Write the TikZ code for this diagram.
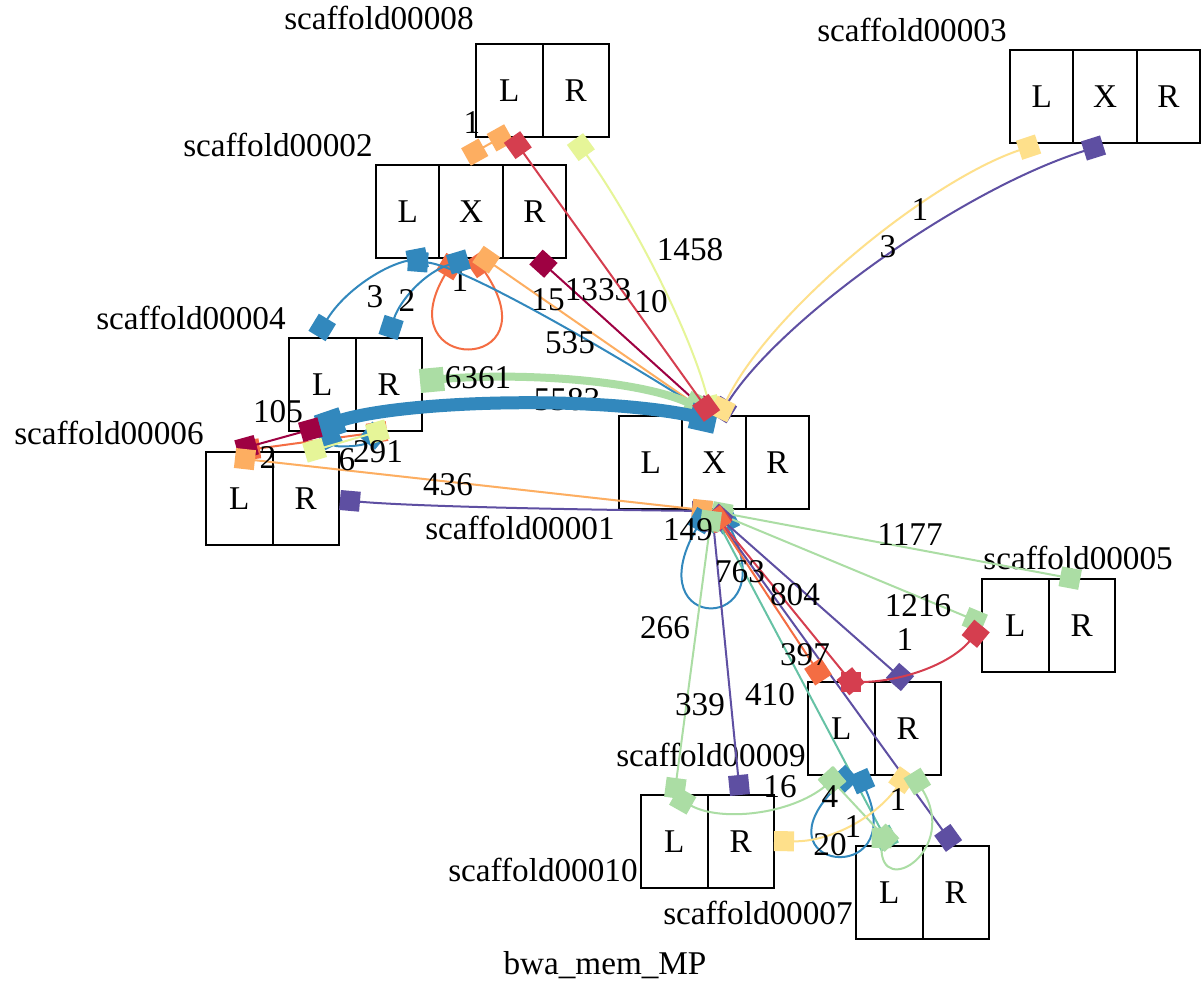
\documentclass[tikz,border=0pt]{standalone}
\usepackage{fontspec}
\setmainfont{Liberation Serif}
\usetikzlibrary{arrows.meta}
\definecolor{cDR}{HTML}{9E0142}
\definecolor{cR}{HTML}{D53E4F}
\definecolor{cOR}{HTML}{F46D43}
\definecolor{cLO}{HTML}{FDAE61}
\definecolor{cY}{HTML}{FEE08B}
\definecolor{cYG}{HTML}{E6F598}
\definecolor{cLG}{HTML}{ABDDA4}
\definecolor{cTe}{HTML}{66C2A5}
\definecolor{cB}{HTML}{3288BD}
\definecolor{cP}{HTML}{5E4FA2}
\tikzset{
  sqt/.tip={Square[length=10pt,width=10pt]},
  sqG/.tip={Square[length=12pt,width=12pt]},
  sqB/.tip={Square[length=13pt,width=13pt]},
  cell/.style={draw=black, line width=1pt, minimum width=33.25pt, minimum height=46.5pt,
    inner sep=0pt, outer sep=0pt, font=\fontsize{16.6}{20}\selectfont},
  cellx/.style={cell, minimum width=31.67pt},
  lbl/.style={inner sep=0pt, font=\fontsize{16.6}{20}\selectfont},
  conn/.style={sqt-sqt, line width=1pt},
}
\newcommand\boxtwo[3]{%
  \node[cell] (#1L) at ({#2+33.25},{#3+46.5}) {L};
  \node[cell] (#1R) at ({#2+99.75},{#3+46.5}) {R};}
\newcommand\boxthree[3]{%
  \node[cellx] (#1L) at ({#2+31.667},{#3+46.5}) {L};
  \node[cellx] (#1X) at ({#2+95},{#3+46.5}) {X};
  \node[cellx] (#1R) at ({#2+158.333},{#3+46.5}) {R};}
\begin{document}
\begin{tikzpicture}[x=0.5pt,y=-0.5pt]
\fill[white] (0,0) rectangle (1202,983);
\useasboundingbox (0,0) rectangle (1202,983);
% boxes
\boxtwo{sE}{476}{44}
\boxthree{sC}{1010}{50}
\boxthree{sB}{376}{165}
\boxtwo{sD}{289}{338}
\boxtwo{sF}{206}{452}
\boxthree{sA}{619}{416}
\boxtwo{sG}{982}{579}
\boxtwo{sI}{808}{682}
\boxtwo{sJ}{641}{795}
\boxtwo{sH}{856}{846}
% box labels
\node[lbl,anchor=east] (n8) at (474,18) {scaffold00008};
\node[lbl,anchor=east] (n3) at (1007,30) {scaffold00003};
\node[lbl,anchor=east] (n2) at (373,145) {scaffold00002};
\node[lbl,anchor=east] (n4) at (286,318) {scaffold00004};
\node[lbl,anchor=east] (n6) at (204,433) {scaffold00006};
\node[lbl,anchor=east] (n1) at (615,528) {scaffold00001};
\node[lbl,anchor=west] (n5) at (983,558) {scaffold00005};
\node[lbl,anchor=east] (n9) at (806,755) {scaffold00009};
\node[lbl,anchor=east] (n10) at (638,870) {scaffold00010};
\node[lbl,anchor=east] (n7) at (853,913) {scaffold00007};
\node[lbl] (title) at (605,965) {bwa\_mem\_MP};
% labels that lie under edges
\node[lbl] (l04) at (460,281) {1};
\node[lbl] (l13) at (567,400) {5583};
% ports
\coordinate (pAT) at (712,416);
\coordinate (pATy) at (718,418);
\coordinate (pATb) at (716,421);
\coordinate (pATg) at (708,412);
\coordinate (pAB) at (712,511);
\coordinate (pABa) at (706,512);
\coordinate (pABb) at (722,512);
\coordinate (pBXt) at (466,157);
\coordinate (pELb) at (509,133);
\coordinate (pELb2) at (512,137);
\coordinate (pERb) at (575,139);
\coordinate (pDLt) at (317,336);
\coordinate (pBLb) at (427,257);
\coordinate (pBLb2) at (408,261);
\coordinate (pDRt) at (388,337);
\coordinate (pBXb) at (468,259);
\coordinate (pBXl1) at (474,256);
\coordinate (pBXl2) at (455,258);
\coordinate (pBXo) at (478,254);
\coordinate (pBRb) at (536,257);
\coordinate (pCLb) at (1038,144);
\coordinate (pCXb) at (1103,145);
\coordinate (pDRr) at (420,381);
\coordinate (pDLb) at (318,428);
\coordinate (pFLa) at (240,451);
\coordinate (pFLb) at (237,450);
\coordinate (pFLc) at (235,458);
\coordinate (pDRb) at (387,431);
\coordinate (pDLy) at (305,453);
\coordinate (pDRy) at (387,429);
\coordinate (pDLs) at (325,428);
\coordinate (pDRs) at (380,428);
\coordinate (pDLr) at (320,427);
\coordinate (pFRr) at (340,500);
\coordinate (pGRt) at (1080,580);
\coordinate (pGLl) at (984,624);
\coordinate (pGLl2) at (982,626);
\coordinate (pIRt) at (907.5,683.6);
\coordinate (pILt) at (823.5,680);
\coordinate (pILt2) at (857,689);
\coordinate (pILt3) at (841,682);
\coordinate (pJRt) at (740,795);
\coordinate (pJLt) at (674,798);
\coordinate (pJLt2) at (674,796);
\coordinate (pHLt) at (890,847);
\coordinate (pHLt2) at (882,828);
\coordinate (pHLt3) at (892,845);
\coordinate (pHRt) at (954,846);
\coordinate (pILb) at (840,774);
\coordinate (pILb2) at (852,772);
\coordinate (pILb3) at (858,772);
\coordinate (pILb4) at (825,773);
\coordinate (pJRr) at (774,841);
\coordinate (pIRb) at (908,772);
\coordinate (pIRb2) at (912,773);
% edges: upper
\draw[conn,cLO] (pBXt) -- (pELb);
\draw[conn,cOR] (pBXl1) .. controls (555,375) and (385,375) .. (pBXl2);
\draw[conn,cLO] (pBXo) -- (pAT);
\draw[conn,cB] (pBLb2) .. controls (460,265) and (600,345) .. (pAT);
\draw[conn,cB] (pDLt) .. controls (345,290) and (385,265) .. (pBLb);
\draw[conn,cB] (pDRt) .. controls (400,300) and (425,272) .. (pBXb);
\draw[conn,cDR] (pBRb) -- (pAT);
\draw[conn,cYG] (pERb) .. controls (630,215) and (690,330) .. (pAT);
\draw[sqG-sqG,line width=4pt,cLG] (pDRr) .. controls (520,372) and (640,380) .. (pATg);
\draw[sqB-sqB,line width=6.5pt,cB] (pDLb) .. controls (400,400) and (600,395) .. (pATb);
\draw[conn,cP] (pATy) .. controls (780,320) and (960,190) .. (pCXb);
\draw[conn,cY] (pATy) .. controls (770,310) and (930,180) .. (pCLb);
\draw[conn,cR] (pELb2) -- (pAT);
% edges: left
\draw[conn,cOR] (pFLa) -- (pDRb);
\draw[conn,cB] (pDLs) .. controls (335,448) and (365,446) .. (pDRs);
\draw[conn,cYG] (pDLy) -- (pDRy);
\draw[conn,cDR] (pFLb) -- (pDLr);
\draw[conn,cP] (pFRr) .. controls (420,507) and (600,510) .. (pAB);
\draw[conn,cLO] (pFLc) -- (pAB);
% edges: lower
\draw[conn,cB] (pABa) .. controls (635,635) and (785,635) .. (pABb);
\draw[conn,cLG] (pAB) -- (pGRt);
\draw[conn,cLG] (pAB) -- (pGLl);
\draw[conn,cP] (pAB) -- (pJRt);
\draw[conn,cTe] (pAB) -- (pHLt);
\draw[conn,cP] (pAB) -- (pHRt);
\draw[conn,cP] (pAB) -- (pIRt);
\draw[conn,cR] (pAB) -- (pILt2);
\draw[conn,cOR] (pAB) -- (pILt);
\draw[conn,cR] (pILt3) .. controls (900,682) and (950,665) .. (pGLl2);
\draw[conn,cLG] (pAB) -- (pJLt);
% edges: bottom cluster
\draw[conn,cB] (pILb2) .. controls (750,870) and (910,890) .. (pILb3);
\draw[conn,cLG] (pJLt2) .. controls (720,822) and (790,815) .. (pILb);
\draw[conn,cLG] (pILb4) -- (pHLt3);
\draw[conn,cY] (pJRr) .. controls (830,842) and (875,818) .. (pIRb);
\draw[conn,cLG] (pIRb2) .. controls (960,850) and (880,900) .. (pHLt2);
% edge labels
\node[lbl] (l01) at (472,123) {1};
\node[lbl] (l02) at (375,297) {3};
\node[lbl] (l03) at (407,301) {2};
\node[lbl] (l05) at (548,300) {15};
\node[lbl] (l06) at (598,290) {1333};
\node[lbl] (l07) at (651,302) {10};
\node[lbl] (l08) at (690,250) {1458};
\node[lbl] (l09) at (570,343) {535};
\node[lbl] (l10) at (920,210) {1};
\node[lbl] (l11) at (888,247) {3};
\node[lbl] (l12) at (478,378) {6361};
\node[lbl] (l14) at (278,412) {105};
\node[lbl] (l15) at (268,458) {2};
\node[lbl] (l16) at (347,460) {6};
\node[lbl] (l17) at (378,452) {291};
\node[lbl] (l18) at (448,485) {436};
\node[lbl] (l19) at (688,530) {149};
\node[lbl] (l20) at (910,535) {1177};
\node[lbl] (l21) at (918,606) {1216};
\node[lbl] (l22) at (740,572) {763};
\node[lbl] (l23) at (795,595) {804};
\node[lbl] (l24) at (665,628) {266};
\node[lbl] (l25) at (805,655) {397};
\node[lbl] (l26) at (905,640) {1};
\node[lbl] (l27) at (700,705) {339};
\node[lbl] (l28) at (770,695) {410};
\node[lbl] (l29) at (780,787) {16};
\node[lbl] (l30) at (830,797) {4};
\node[lbl] (l31) at (898,800) {1};
\node[lbl] (l32) at (853,827) {1};
\node[lbl] (l33) at (830,845) {20};
\end{tikzpicture}
\end{document}
